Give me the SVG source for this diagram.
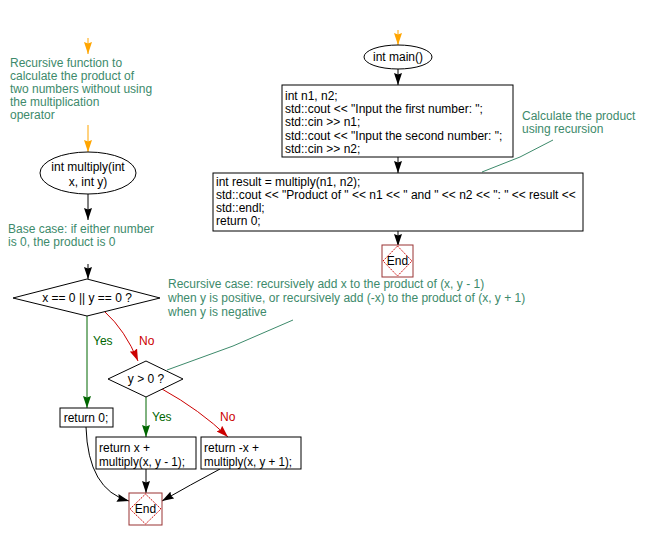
<svg xmlns="http://www.w3.org/2000/svg" width="652" height="540" viewBox="0 0 652 540">
<style>
text{font-family:"Liberation Sans",Arial,sans-serif;font-size:12px;fill:#000}
.c{fill:#3d8a6b}
.y{fill:#006600}
.n{fill:#cc0000}
.box{fill:#fff;stroke:#000;stroke-width:1}
.ln{fill:none;stroke:#000;stroke-width:1}
.or{fill:none;stroke:#ffa500;stroke-width:1}
.gl{fill:none;stroke:#006600;stroke-width:1}
.rl{fill:none;stroke:#cc0000;stroke-width:1}
.cl{fill:none;stroke:#3d8a6b;stroke-width:1}
.endb{fill:#fff;stroke:#993333;stroke-width:1}
.endd{fill:none;stroke:#cc0000;stroke-width:1;stroke-dasharray:1.5 1}
</style>
<defs>
<marker id="a" viewBox="0 0 12 8" refX="12" refY="4" markerWidth="12" markerHeight="8" orient="auto" markerUnits="userSpaceOnUse"><path d="M0,0 L12,4 L0,8 L1.5,4 Z" fill="#000"/></marker>
<marker id="ao" viewBox="0 0 12 8" refX="12" refY="4" markerWidth="12" markerHeight="8" orient="auto" markerUnits="userSpaceOnUse"><path d="M0,0 L12,4 L0,8 L1.5,4 Z" fill="#ffa500"/></marker>
<marker id="ag" viewBox="0 0 12 8" refX="12" refY="4" markerWidth="12" markerHeight="8" orient="auto" markerUnits="userSpaceOnUse"><path d="M0,0 L12,4 L0,8 L1.5,4 Z" fill="#006600"/></marker>
<marker id="ar" viewBox="0 0 12 8" refX="12" refY="4" markerWidth="12" markerHeight="8" orient="auto" markerUnits="userSpaceOnUse"><path d="M0,0 L12,4 L0,8 L1.5,4 Z" fill="#cc0000"/></marker>
</defs>

<g id="connectors">
<path class="or" d="M88,38 L88,54" marker-end="url(#ao)"/>
<path class="or" d="M88,125 L88,152" marker-end="url(#ao)"/>
<path class="ln" d="M88,194 L88,220" marker-end="url(#a)"/>
<path class="ln" d="M88,264 L88,279" marker-end="url(#a)"/>
<path class="gl" d="M87,316 L87,408" marker-end="url(#ag)"/>
<path class="rl" d="M105,312 Q125,330 138,361" marker-end="url(#ar)"/>
<path class="gl" d="M146,397 L146,437" marker-end="url(#ag)"/>
<path class="rl" d="M162,389 Q200,410 228,437" marker-end="url(#ar)"/>
<path class="ln" d="M146,469 L146,493" marker-end="url(#a)"/>
<path class="ln" d="M86,427 Q88,490 129,501" marker-end="url(#a)"/>
<path class="ln" d="M220,469 Q190,485 162,501" marker-end="url(#a)"/>
<path class="cl" d="M167,370 L233,346 L293,320"/>
<path class="or" d="M398,30 L398,45" marker-end="url(#ao)"/>
<path class="ln" d="M398,69 L398,85" marker-end="url(#a)"/>
<path class="ln" d="M398,157 L398,173" marker-end="url(#a)"/>
<path class="ln" d="M398,231 L398,246" marker-end="url(#a)"/>
<path class="cl" d="M482,172 L520,157 L553,140"/>
</g>

<g id="comment1">
<text class="c" x="10" y="67">Recursive function to</text>
<text class="c" x="10" y="80">calculate the product of</text>
<text class="c" x="10" y="93">two numbers without using</text>
<text class="c" x="10" y="106">the multiplication</text>
<text class="c" x="10" y="119">operator</text>
</g>

<g id="multiply">
<ellipse class="box" cx="88" cy="173" rx="48" ry="21"/>
<text x="88" y="171" text-anchor="middle">int multiply(int</text>
<text x="88" y="186" text-anchor="middle">x, int y)</text>
</g>

<g id="comment2">
<text class="c" x="8" y="233">Base case: if either number</text>
<text class="c" x="8" y="246">is 0, the product is 0</text>
</g>

<g id="cond1">
<polygon class="box" points="13,298 87,279 160,298 87,316"/>
<text x="87" y="302" text-anchor="middle">x == 0 || y == 0 ?</text>
</g>
<text class="y" x="93" y="345">Yes</text>
<text class="n" x="139" y="345">No</text>

<g id="comment3">
<text class="c" x="168" y="288">Recursive case: recursively add x to the product of (x, y - 1)</text>
<text class="c" x="168" y="302">when y is positive, or recursively add (-x) to the product of (x, y + 1)</text>
<text class="c" x="168" y="316">when y is negative</text>
</g>

<g id="cond2">
<polygon class="box" points="108,379 146,361 183,379 146,397"/>
<text x="146" y="383" text-anchor="middle">y &gt; 0 ?</text>
</g>
<text class="y" x="152" y="421">Yes</text>
<text class="n" x="220" y="421">No</text>

<g id="ret0">
<rect class="box" x="60" y="408" width="53" height="19"/>
<text x="86" y="422" text-anchor="middle">return 0;</text>
</g>

<g id="retpos">
<rect class="box" x="96" y="437" width="100" height="32"/>
<text x="99" y="452">return x +</text>
<text x="99" y="466" textLength="86" lengthAdjust="spacingAndGlyphs">multiply(x, y - 1);</text>
</g>

<g id="retneg">
<rect class="box" x="201" y="437" width="100" height="32"/>
<text x="204" y="452">return -x +</text>
<text x="204" y="466" textLength="88" lengthAdjust="spacingAndGlyphs">multiply(x, y + 1);</text>
</g>

<g id="end1">
<rect class="endb" x="129" y="493" width="33" height="32"/>
<polygon class="endd" points="145.5,494 161,509 145.5,524 130,509"/>
<text x="145.5" y="513" text-anchor="middle">End</text>
</g>

<g id="main">
<ellipse class="box" cx="398" cy="57" rx="34" ry="12"/>
<text x="398" y="61" text-anchor="middle">int main()</text>
</g>

<g id="input">
<rect class="box" x="282" y="85" width="231" height="72"/>
<text x="285" y="100">int n1, n2;</text>
<text x="285" y="113">std::cout &lt;&lt; "Input the first number: ";</text>
<text x="285" y="126">std::cin &gt;&gt; n1;</text>
<text x="285" y="140">std::cout &lt;&lt; "Input the second number: ";</text>
<text x="285" y="153">std::cin &gt;&gt; n2;</text>
</g>

<g id="comment4">
<text class="c" x="522" y="120">Calculate the product</text>
<text class="c" x="522" y="133">using recursion</text>
</g>

<g id="calc">
<rect class="box" x="213" y="173" width="370" height="58"/>
<text x="216" y="186">int result = multiply(n1, n2);</text>
<text x="216" y="199">std::cout &lt;&lt; "Product of " &lt;&lt; n1 &lt;&lt; " and " &lt;&lt; n2 &lt;&lt; ": " &lt;&lt; result &lt;&lt;</text>
<text x="216" y="212">std::endl;</text>
<text x="216" y="225">return 0;</text>
</g>

<g id="end2">
<rect class="endb" x="382" y="245" width="31" height="32"/>
<polygon class="endd" points="397.5,246 412,261 397.5,276 383,261"/>
<text x="397.5" y="265" text-anchor="middle">End</text>
</g>
</svg>
